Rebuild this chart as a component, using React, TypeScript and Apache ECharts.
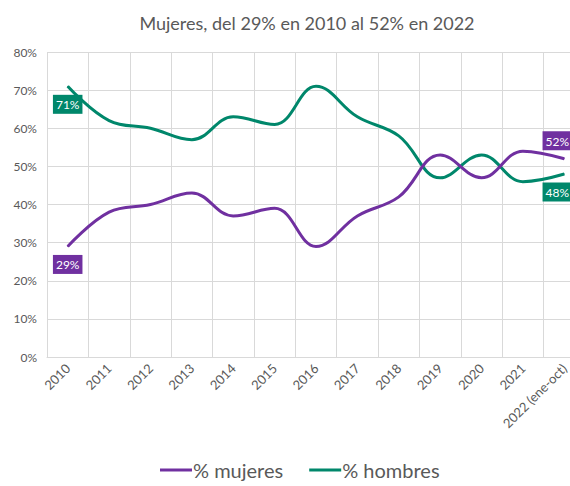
import React, { useEffect, useRef } from "react";
import * as echarts from "echarts";

const categories = ["2010", "2011", "2012", "2013", "2014", "2015", "2016", "2017", "2018", "2019", "2020", "2021", "2022 (ene-oct)"];
const mujeres = [29, 38, 40, 43, 37, 39, 29, 37, 42, 53, 47, 54, 52];
const hombres = [71, 62, 60, 57, 63, 61, 71, 63, 58, 47, 53, 46, 48];
const titleText = "Mujeres, del 29% en 2010 al 52% en 2022";
const seriesNames = ["% mujeres", "% hombres"];

const PURPLE = "#7030A0";
const GREEN = "#00876B";
const FONT = "Lato, 'Open Sans', sans-serif";

function withEndLabels(values: number[], color: string, firstPos: string, lastPos: string) {
  return values.map((v, i) => {
    const isFirst = i === 0;
    if (isFirst || i === values.length - 1) {
      return {
        value: v,
        label: {
          show: true,
          position: isFirst ? firstPos : lastPos,
          distance: 8,
          offset: isFirst ? [0, 0] : [-7, 0],
          formatter: "{c}%",
          color: "#ffffff",
          backgroundColor: color,
          padding: [4, 3, 3, 3],
          fontSize: 12,
          fontFamily: FONT,
        },
      };
    }
    return v;
  });
}

export default function App() {
  const ref = useRef<HTMLDivElement>(null);
  useEffect(() => {
    if (!ref.current) return;
    const chart = echarts.init(ref.current, null, { renderer: "svg" });
    chart.setOption({
      animation: false,
      backgroundColor: "#ffffff",
      title: {
        text: titleText,
        left: 302,
        textAlign: "center",
        top: 9,
        textStyle: { color: "#595959", fontSize: 18, fontWeight: "normal", fontFamily: FONT },
      },
      legend: {
        bottom: 1,
        left: 155,
        itemWidth: 32,
        itemHeight: 3,
        itemGap: 26,
        icon: "rect",
        textStyle: { color: "#595959", fontSize: 20, fontFamily: FONT, padding: [0, 0, 0, -4] },
        data: seriesNames,
      },
      grid: { left: 47, width: 538, top: 52, height: 305, containLabel: false, outerBoundsMode: "none" },
      xAxis: {
        type: "category",
        data: categories,
        boundaryGap: true,
        axisLine: { lineStyle: { color: "#d9d9d9" } },
        axisTick: { show: false },
        splitLine: { show: true, lineStyle: { color: "#d9d9d9" } },
        axisLabel: { interval: 0, rotate: 45, color: "#595959", fontSize: 13, fontFamily: FONT, margin: 9 },
      },
      yAxis: {
        type: "value",
        min: 0,
        max: 80,
        interval: 10,
        axisLine: { show: false },
        axisTick: { show: false },
        splitLine: { lineStyle: { color: "#d9d9d9" } },
        axisLabel: { formatter: "{value}%", color: "#595959", fontSize: 12, fontFamily: FONT, margin: 10 },
      },
      series: [
        {
          name: seriesNames[0],
          type: "line",
          data: withEndLabels(mujeres, PURPLE, "bottom", "top"),
          smooth: 0.4,
          showSymbol: true,
          symbol: "circle",
          symbolSize: 1,
          lineStyle: { color: PURPLE, width: 3 },
          itemStyle: { color: PURPLE },
          z: 3,
        },
        {
          name: seriesNames[1],
          type: "line",
          data: withEndLabels(hombres, GREEN, "bottom", "bottom"),
          smooth: 0.4,
          showSymbol: true,
          symbol: "circle",
          symbolSize: 1,
          lineStyle: { color: GREEN, width: 3 },
          itemStyle: { color: GREEN },
          z: 2,
        },
      ],
    });
    return () => chart.dispose();
  }, []);
  return <div ref={ref} style={{ position: "fixed", left: 0, top: 0, width: 570, height: 486 }} />;
}
